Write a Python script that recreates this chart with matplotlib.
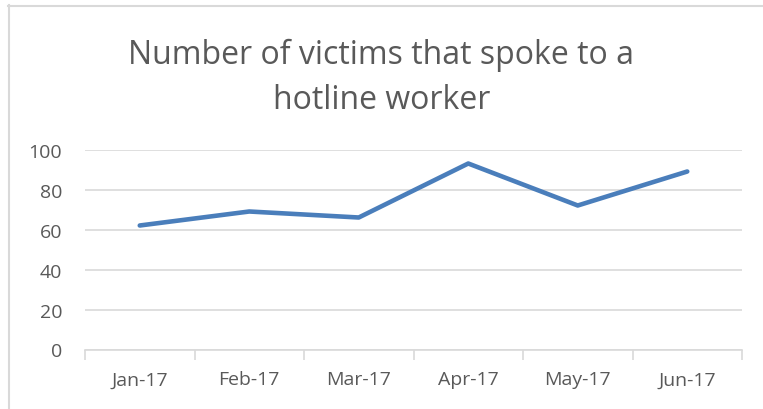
import matplotlib
matplotlib.use('Agg')
import matplotlib.pyplot as plt
from matplotlib.lines import Line2D
import numpy as np

# Data
months = ["Jan-17", "Feb-17", "Mar-17", "Apr-17", "May-17", "Jun-17"]
victims = [62, 69, 66, 93, 72, 89]
y_ticks = [0, 20, 40, 60, 80, 100]
title_lines = ["Number of victims that spoke to a", "hotline worker"]

text_color = "#595959"
grid_color = "#d9d9d9"
line_color = "#4a7ebb"

plt.rcParams['font.family'] = ['Open Sans', 'DejaVu Sans']

W, H = 763, 410
fig = plt.figure(figsize=(W / 100, H / 100), dpi=100)
ax = fig.add_axes([85 / W, (H - 350.5) / H, (742 - 85) / W, 200 / H])

x = np.arange(len(months))
ax.plot(x, victims, color=line_color, linewidth=3.3, solid_capstyle='round', solid_joinstyle='round')

ax.set_xlim(-0.5, len(months) - 0.5)
ax.set_ylim(0, 100)
ax.set_yticks(y_ticks)
ax.set_yticklabels([str(v) for v in y_ticks])
ax.set_xticks(x)
ax.set_xticklabels(months)
ax.set_xticks(np.arange(-0.5, len(months)), minor=True)

ax.grid(axis='y', color=grid_color, linewidth=1.2)
ax.set_axisbelow(True)
for side in ["top", "right", "left"]:
    ax.spines[side].set_visible(False)
ax.spines["bottom"].set_color(grid_color)
ax.spines["bottom"].set_linewidth(1.2)

ax.tick_params(axis='y', length=0, pad=16.5, labelsize=14, labelcolor=text_color)
ax.tick_params(axis='x', which='major', length=0, pad=15, labelsize=14, labelcolor=text_color)
ax.tick_params(axis='x', which='minor', length=7, width=1.2, color=grid_color, direction='out')

# title, two centred lines
for i, line in enumerate(title_lines):
    fig.text(0.5, 1 - (64 + 45 * i) / H, line, ha='center', va='baseline',
             fontsize=23, color=text_color)

# chart area border (left and top visible)
fig.add_artist(Line2D([8.5 / W, 8.5 / W], [0, 1 - 6 / H], color=grid_color, linewidth=1.5, transform=fig.transFigure))
fig.add_artist(Line2D([8 / W, 1], [1 - 6.5 / H, 1 - 6.5 / H], color=grid_color, linewidth=1.5, transform=fig.transFigure))

plt.savefig("out.png", dpi=100)
plt.close()
